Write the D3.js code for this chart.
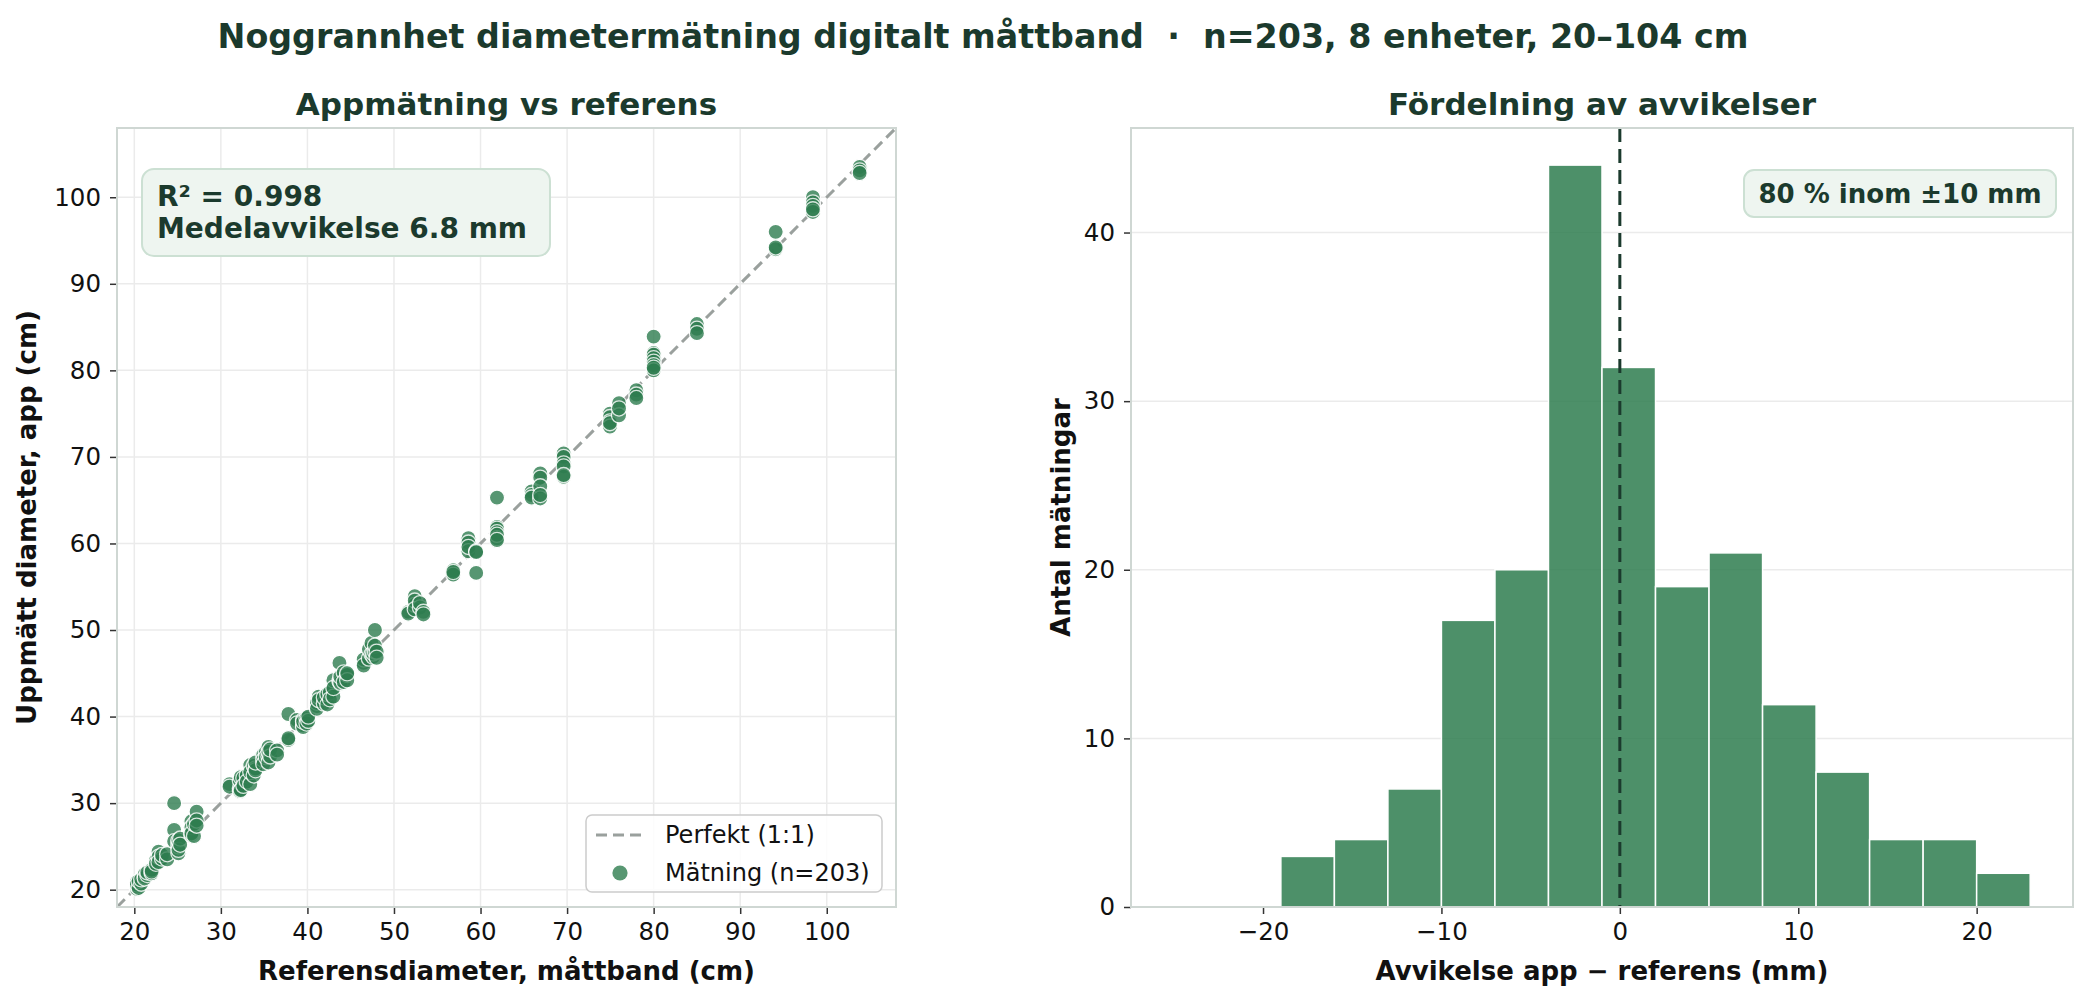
<!DOCTYPE html>
<html>
<head>
<meta charset="utf-8">
<script src="https://cdn.jsdelivr.net/npm/d3@7"></script>
<style>
  body { margin: 0; background: #fff; }
  text { font-family: "DejaVu Sans", sans-serif; white-space: pre; }
</style>
</head>
<body>
<svg id="chart" width="2088" height="1001"></svg>
<script>
// reference diameter (tape) vs app reading, cm -- same order in both arrays
const refCm = [
  20.3,20.3,20.3,20.3, 20.5,20.5, 20.8,20.8, 21.2,21.2,21.2, 21.5,21.5, 22.0,22.0,22.0,
  22.5,22.5, 22.8,22.8,22.8, 23.2,23.2, 23.8,23.8, 24.6,24.6,24.6, 25.1,25.1,25.1,25.1,25.1, 25.3,25.3,
  26.6,26.6,26.6,26.6,26.6, 26.9,26.9, 27.2,27.2,27.2,
  31.0,31.0, 32.2,32.2,32.2, 32.3,32.3, 32.6,32.6, 33.0,33.0, 33.4,33.4,33.4, 33.8,33.8,
  34.0,34.0,34.0, 34.9,34.9,34.9, 35.2,35.2, 35.5,35.5,35.5,35.5, 35.7,35.7, 36.5,36.5,
  37.8,37.8,37.8, 38.8,38.8, 39.5,39.5,39.5,39.5, 39.9,39.9, 40.1,40.1,
  41.1,41.1,41.1, 41.3,41.3, 41.9,41.9, 42.3,42.3, 42.6,42.6, 43.0,43.0,43.0, 43.7,43.7,
  43.8,43.8,43.8, 44.2,44.2, 44.6,44.6,44.6, 46.5,46.5,46.5, 47.1,47.1, 47.4,47.4, 47.6,47.6,
  47.8,47.8,47.8, 48.0,48.0,
  51.65,51.65, 52.4,52.4,52.4,52.4, 53.0,53.0, 53.4,53.4, 56.85,56.85,56.85,56.85,
  58.6,58.6,58.6,58.6, 59.5,59.5,59.5,
  61.9,61.9,61.9,61.9,61.9,61.9,61.9,
  65.9,65.9,65.9, 66.9,66.9,66.9,66.9,66.9, 69.6,69.6,69.6,69.6,69.6,69.6,
  74.95,74.95,74.95,74.95,74.95, 76.0,76.0,76.0, 78.0,78.0,78.0,
  80.0,80.0,80.0,80.0,80.0,80.0,80.0,80.0,
  85.0,85.0,85.0, 94.1,94.1,94.1, 98.4,98.4,98.4,98.4,98.4, 103.8,103.8,103.8
];
const appCm = [
  20.1,20.4,20.9,20.6, 20.2,21.0, 20.7,21.2, 21.5,21.8,21.3, 21.7,22.0, 21.9,22.3,22.1,
  23.4,23.0, 24.4,23.8,23.2, 23.6,24.0, 23.5,24.1, 30.0,26.9,25.6, 25.4,24.2,25.0,25.7,24.6, 25.9,25.2,
  27.9,26.7,26.3,27.2,26.5, 26.2,27.6, 29.0,28.0,27.4,
  32.2,31.9, 31.7,32.6,31.4, 33.0,31.5, 32.9,32.0, 33.2,32.5, 32.2,34.4,33.6, 34.3,33.2,
  34.0,33.8,34.7, 35.6,35.0,34.5, 35.9,35.3, 36.5,35.4,35.9,34.7, 35.4,36.2, 36.1,35.6,
  40.3,37.3,37.5, 39.6,39.2, 39.0,39.6,38.8,39.4, 39.8,39.2, 39.5,40.0,
  41.2,41.6,40.9, 42.3,41.9, 41.5,42.2, 41.4,42.6, 42.8,42.0, 42.3,44.2,43.3, 46.2,44.1,
  44.2,43.9,44.6, 45.1,44.0, 44.8,44.2,45.0, 46.2,46.6,45.9, 46.7,47.8, 48.5,47.2, 46.9,47.3,
  50.0,47.5,48.2, 47.5,46.8,
  52.1,51.9, 53.9,52.9,53.4,52.4, 52.6,53.1, 52.1,51.8, 56.6,56.9,56.4,56.7,
  60.6,60.1,59.1,59.6, 59.1,56.6,59.0,
  65.3,61.9,61.7,61.3,60.6,61.0,60.4,
  66.0,65.6,65.3, 68.1,67.6,66.6,65.2,65.6, 70.4,70.0,69.25,68.9,67.7,67.9,
  75.0,74.6,74.1,73.5,73.9, 76.2,74.8,75.6, 77.7,77.2,76.8,
  83.9,82.0,81.8,81.4,81.0,80.6,80.0,80.3,
  85.35,84.8,84.3, 96.0,94.0,94.2, 100.0,99.4,99.0,98.3,98.6, 103.5,103.1,102.8
];

// histogram of app - ref (mm)
const binEdges = [-25, -22, -19, -16, -13, -10, -7, -4, -1, 2, 5, 8, 11, 14, 17, 20, 23];
const binCounts = [0, 0, 3, 4, 7, 17, 20, 44, 32, 19, 21, 12, 8, 4, 4, 2];

const scatterTicks = [20, 30, 40, 50, 60, 70, 80, 90, 100];
const histXTicks = [-20, -10, 0, 10, 20];
const histYTicks = [0, 10, 20, 30, 40];

const nMeas = refCm.length;
const r2Text = "R² = 0.998";
const maeText = "Medelavvikelse 6.8 mm";
const withinText = "80 % inom ±10 mm";

const ink = "#1b3a2d";
const green = "#2e7d4f";
const spineColor = "#cfd7d3";
const gridColor = "#ebebeb";
const tickFont = 24.5;
const labelFont = 26;

const svg = d3.select("#chart");

svg.append("text")
  .attr("x", 983).attr("y", 36)
  .attr("text-anchor", "middle").attr("dominant-baseline", "central")
  .attr("font-size", 33.3).attr("font-weight", "bold").attr("fill", ink)
  .text("Noggrannhet diametermätning digitalt måttband  ·  n=203, 8 enheter, 20–104 cm");

function frame(g, x, y, opts) {
  const [x0, x1] = x.range();
  const [y0, y1] = y.range();
  if (opts.xgrid) {
    g.append("g").selectAll("line").data(opts.xticks).join("line")
      .attr("x1", d => x(d)).attr("x2", d => x(d))
      .attr("y1", y0).attr("y2", y1)
      .attr("stroke", gridColor).attr("stroke-width", 1.5);
  }
  g.append("g").selectAll("line").data(opts.yticks).join("line")
    .attr("x1", x0).attr("x2", x1)
    .attr("y1", d => y(d)).attr("y2", d => y(d))
    .attr("stroke", gridColor).attr("stroke-width", 1.5);
}

function axes(g, x, y, opts) {
  const [x0, x1] = x.range();
  const [y0, y1] = y.range();
  const xa = g.append("g").attr("transform", `translate(0,${y0})`)
    .call(d3.axisBottom(x).tickValues(opts.xticks).tickSize(7).tickPadding(9).tickFormat(d3.format("d")));
  const ya = g.append("g").attr("transform", `translate(${x0},0)`)
    .call(d3.axisLeft(y).tickValues(opts.yticks).tickSize(7).tickPadding(9).tickFormat(d3.format("d")));
  [xa, ya].forEach(a => {
    a.select(".domain").remove();
    a.selectAll(".tick line").attr("stroke", "#333").attr("stroke-width", 1.5);
    a.selectAll(".tick text").attr("font-size", tickFont).attr("fill", "#111")
      .attr("font-family", "DejaVu Sans");
  });
  g.append("rect")
    .attr("x", x0).attr("y", y1).attr("width", x1 - x0).attr("height", y0 - y1)
    .attr("fill", "none").attr("stroke", spineColor).attr("stroke-width", 2);

  const cx = (x0 + x1) / 2, cy = (y0 + y1) / 2;
  g.append("text").attr("x", cx).attr("y", 104)
    .attr("text-anchor", "middle").attr("dominant-baseline", "central")
    .attr("font-size", 31).attr("font-weight", "bold").attr("fill", ink)
    .text(opts.title);
  g.append("text").attr("x", cx).attr("y", 971)
    .attr("text-anchor", "middle").attr("dominant-baseline", "central")
    .attr("font-size", labelFont).attr("font-weight", "bold").attr("fill", "#111")
    .text(opts.xlabel);
  g.append("text")
    .attr("transform", `translate(${opts.ylabelX},${cy}) rotate(-90)`)
    .attr("text-anchor", "middle").attr("dominant-baseline", "central")
    .attr("font-size", labelFont).attr("font-weight", "bold").attr("fill", "#111")
    .text(opts.ylabel);
}

// ---------- left: scatter ----------
const x = d3.scaleLinear().domain([18, 108]).range([117, 896]);
const y = d3.scaleLinear().domain([18, 108]).range([907, 128]);
const left = svg.append("g");

svg.append("clipPath").attr("id", "clipL").append("rect")
  .attr("x", 117).attr("y", 128).attr("width", 779).attr("height", 779);

frame(left, x, y, { xgrid: true, xticks: scatterTicks, yticks: scatterTicks });

left.append("line").attr("clip-path", "url(#clipL)")
  .attr("x1", x(18)).attr("y1", y(18)).attr("x2", x(108)).attr("y2", y(108))
  .attr("stroke", "#9aa09d").attr("stroke-width", 3).attr("stroke-dasharray", "11,6");

const pts = refCm.map((r, i) => ({ r, a: appCm[i] }));
left.append("g").attr("clip-path", "url(#clipL)")
  .selectAll("circle").data(pts).join("circle")
  .attr("cx", d => x(d.r)).attr("cy", d => y(d.a)).attr("r", 7.6)
  .attr("fill", green).attr("stroke", "#fff").attr("stroke-width", 1.3)
  .attr("opacity", 0.8);

axes(left, x, y, {
  xticks: scatterTicks, yticks: scatterTicks,
  title: "Appmätning vs referens",
  xlabel: "Referensdiameter, måttband (cm)",
  ylabel: "Uppmätt diameter, app (cm)",
  ylabelX: 27
});

// stats box
left.append("rect").attr("x", 142).attr("y", 169).attr("width", 408).attr("height", 87)
  .attr("rx", 12).attr("fill", "#eef5f0").attr("stroke", "#cce0d3").attr("stroke-width", 2);
[r2Text, maeText].forEach((t, i) => {
  left.append("text").attr("x", 157).attr("y", 196 + i * 32)
    .attr("dominant-baseline", "central")
    .attr("font-size", 28).attr("font-weight", "bold").attr("fill", ink).text(t);
});

// legend
const lg = left.append("g");
lg.append("rect").attr("x", 586).attr("y", 815).attr("width", 296).attr("height", 77)
  .attr("rx", 6).attr("fill", "#fff").attr("fill-opacity", 0.85)
  .attr("stroke", "#cccccc").attr("stroke-width", 1.5);
lg.append("line").attr("x1", 596).attr("x2", 644).attr("y1", 835).attr("y2", 835)
  .attr("stroke", "#9aa09d").attr("stroke-width", 3).attr("stroke-dasharray", "11,6");
lg.append("circle").attr("cx", 620).attr("cy", 873).attr("r", 7.6)
  .attr("fill", green).attr("opacity", 0.8);
[["Perfekt (1:1)", 835], [`Mätning (n=${nMeas})`, 873]].forEach(([t, yy]) => {
  lg.append("text").attr("x", 665).attr("y", yy).attr("dominant-baseline", "central")
    .attr("font-size", 24).attr("fill", "#111").text(t);
});

// ---------- right: histogram ----------
const hx = d3.scaleLinear().domain([-27.4, 25.4]).range([1131, 2073]);
const hy = d3.scaleLinear().domain([0, 46.2]).range([907, 128]);
const right = svg.append("g");

frame(right, hx, hy, { xgrid: false, xticks: histXTicks, yticks: histYTicks });

const bins = binCounts.map((c, i) => ({ x0: binEdges[i], x1: binEdges[i + 1], c }))
  .filter(d => d.c > 0);
right.append("g").selectAll("rect").data(bins).join("rect")
  .attr("x", d => hx(d.x0)).attr("width", d => hx(d.x1) - hx(d.x0))
  .attr("y", d => hy(d.c)).attr("height", d => hy(0) - hy(d.c))
  .attr("fill", green).attr("fill-opacity", 0.85)
  .attr("stroke", "#fff").attr("stroke-width", 1.5);

right.append("line")
  .attr("x1", hx(0)).attr("x2", hx(0)).attr("y1", hy.range()[1]).attr("y2", hy.range()[0])
  .attr("stroke", ink).attr("stroke-width", 3).attr("stroke-dasharray", "14,7");

axes(right, hx, hy, {
  xticks: histXTicks, yticks: histYTicks,
  title: "Fördelning av avvikelser",
  xlabel: "Avvikelse app − referens (mm)",
  ylabel: "Antal mätningar",
  ylabelX: 1061
});

right.append("rect").attr("x", 1744).attr("y", 170).attr("width", 312).attr("height", 47)
  .attr("rx", 10).attr("fill", "#eef5f0").attr("stroke", "#cce0d3").attr("stroke-width", 2);
right.append("text").attr("x", 1900).attr("y", 194)
  .attr("text-anchor", "middle").attr("dominant-baseline", "central")
  .attr("font-size", 26).attr("font-weight", "bold").attr("fill", ink).text(withinText);
</script>
</body>
</html>
